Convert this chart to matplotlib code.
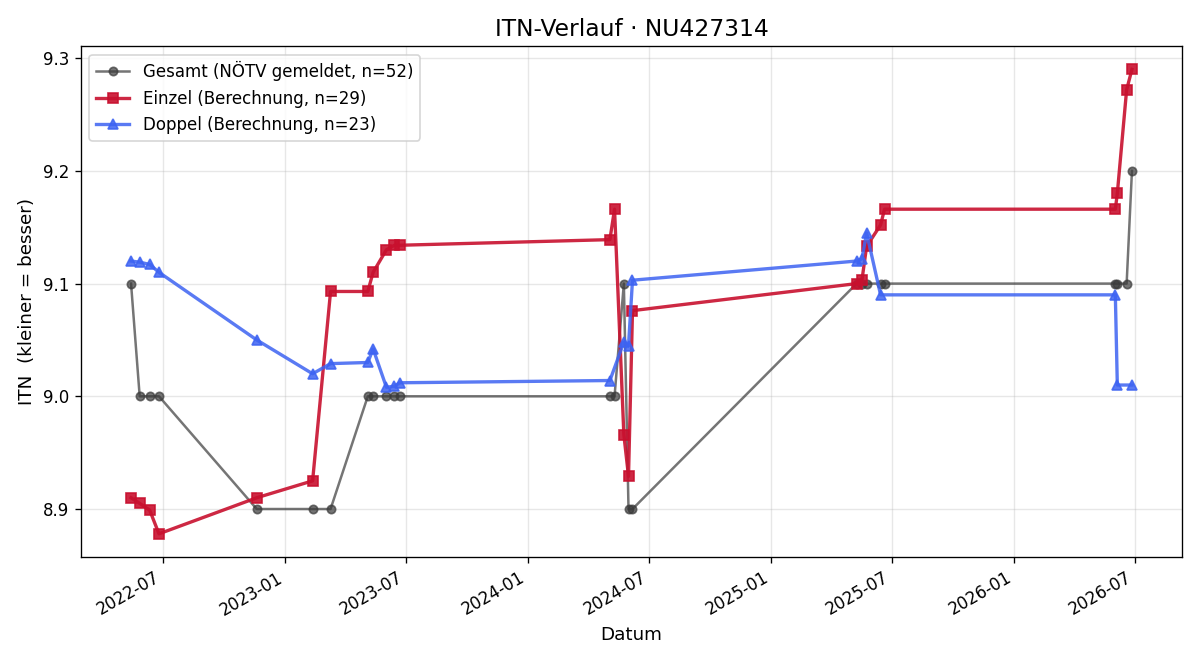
import matplotlib
matplotlib.use("Agg")
import matplotlib.pyplot as plt
import matplotlib.dates as mdates
import pandas as pd

gesamt_dates = ["2022-05-14", "2022-05-27", "2022-06-11", "2022-06-25", "2022-11-19",
                "2023-02-11", "2023-03-10", "2023-05-05", "2023-05-13", "2023-06-02",
                "2023-06-14", "2023-06-22", "2024-05-03", "2024-05-10", "2024-05-24",
                "2024-05-31", "2024-06-06", "2025-05-09", "2025-05-17", "2025-05-24",
                "2025-06-14", "2025-06-20", "2026-06-02", "2026-06-05", "2026-06-19",
                "2026-06-27"]
gesamt_vals = [9.1, 9.0, 9.0, 9.0, 8.9,
               8.9, 8.9, 9.0, 9.0, 9.0,
               9.0, 9.0, 9.0, 9.0, 9.1,
               8.9, 8.9, 9.1, 9.1, 9.1,
               9.1, 9.1, 9.1, 9.1, 9.1,
               9.2]

einzel_dates = ["2022-05-14", "2022-05-27", "2022-06-11", "2022-06-25", "2022-11-19",
                "2023-02-11", "2023-03-10", "2023-05-05", "2023-05-13", "2023-06-02",
                "2023-06-14", "2023-06-22", "2024-05-03", "2024-05-10", "2024-05-24",
                "2024-05-31", "2024-06-06", "2025-05-09", "2025-05-17", "2025-05-24",
                "2025-06-14", "2025-06-20", "2026-06-02", "2026-06-05", "2026-06-19",
                "2026-06-27"]
einzel_vals = [8.910, 8.905, 8.899, 8.878, 8.910,
               8.925, 9.093, 9.093, 9.110, 9.130,
               9.134, 9.134, 9.139, 9.166, 8.966,
               8.929, 9.076, 9.100, 9.103, 9.133,
               9.152, 9.166, 9.166, 9.180, 9.272,
               9.290]

doppel_dates = ["2022-05-14", "2022-05-27", "2022-06-11", "2022-06-25", "2022-11-19",
                "2023-02-11", "2023-03-10", "2023-05-05", "2023-05-13", "2023-06-02",
                "2023-06-14", "2023-06-22", "2024-05-03", "2024-05-24", "2024-05-31",
                "2024-06-06", "2025-05-09", "2025-05-17", "2025-05-24", "2025-06-14",
                "2026-06-02", "2026-06-05", "2026-06-27"]
doppel_vals = [9.120, 9.119, 9.117, 9.110, 9.050,
               9.020, 9.029, 9.030, 9.042, 9.008,
               9.009, 9.012, 9.014, 9.048, 9.045,
               9.103, 9.120, 9.122, 9.145, 9.090,
               9.090, 9.010, 9.010]

labels = ["Gesamt (NÖTV gemeldet, n=52)", "Einzel (Berechnung, n=29)", "Doppel (Berechnung, n=23)"]

fig, ax = plt.subplots(figsize=(10, 5.5), dpi=120)
ax.plot(pd.to_datetime(gesamt_dates), gesamt_vals, marker="o", color="#3a3a3a", alpha=0.7,
        linewidth=1.5, markersize=5, label=labels[0])
ax.plot(pd.to_datetime(einzel_dates), einzel_vals, marker="s", color="#c8102e", alpha=0.9,
        linewidth=2.0, markersize=6, label=labels[1])
ax.plot(pd.to_datetime(doppel_dates), doppel_vals, marker="^", color="#3d63f2", alpha=0.85,
        linewidth=2.0, markersize=6, label=labels[2])

ax.set_title("ITN-Verlauf · NU427314", fontsize=14)
ax.set_xlabel("Datum", fontsize=11)
ax.set_ylabel("ITN  (kleiner = besser)", fontsize=11)
ax.grid(True, alpha=0.3)
ax.legend(loc="upper left", fontsize=10)
ax.xaxis.set_major_locator(mdates.MonthLocator(bymonth=[1, 7]))
ax.xaxis.set_major_formatter(mdates.DateFormatter("%Y-%m"))
fig.autofmt_xdate()
fig.subplots_adjust(left=0.0675, right=0.985, top=0.930, bottom=0.156)
fig.savefig("out.png")
